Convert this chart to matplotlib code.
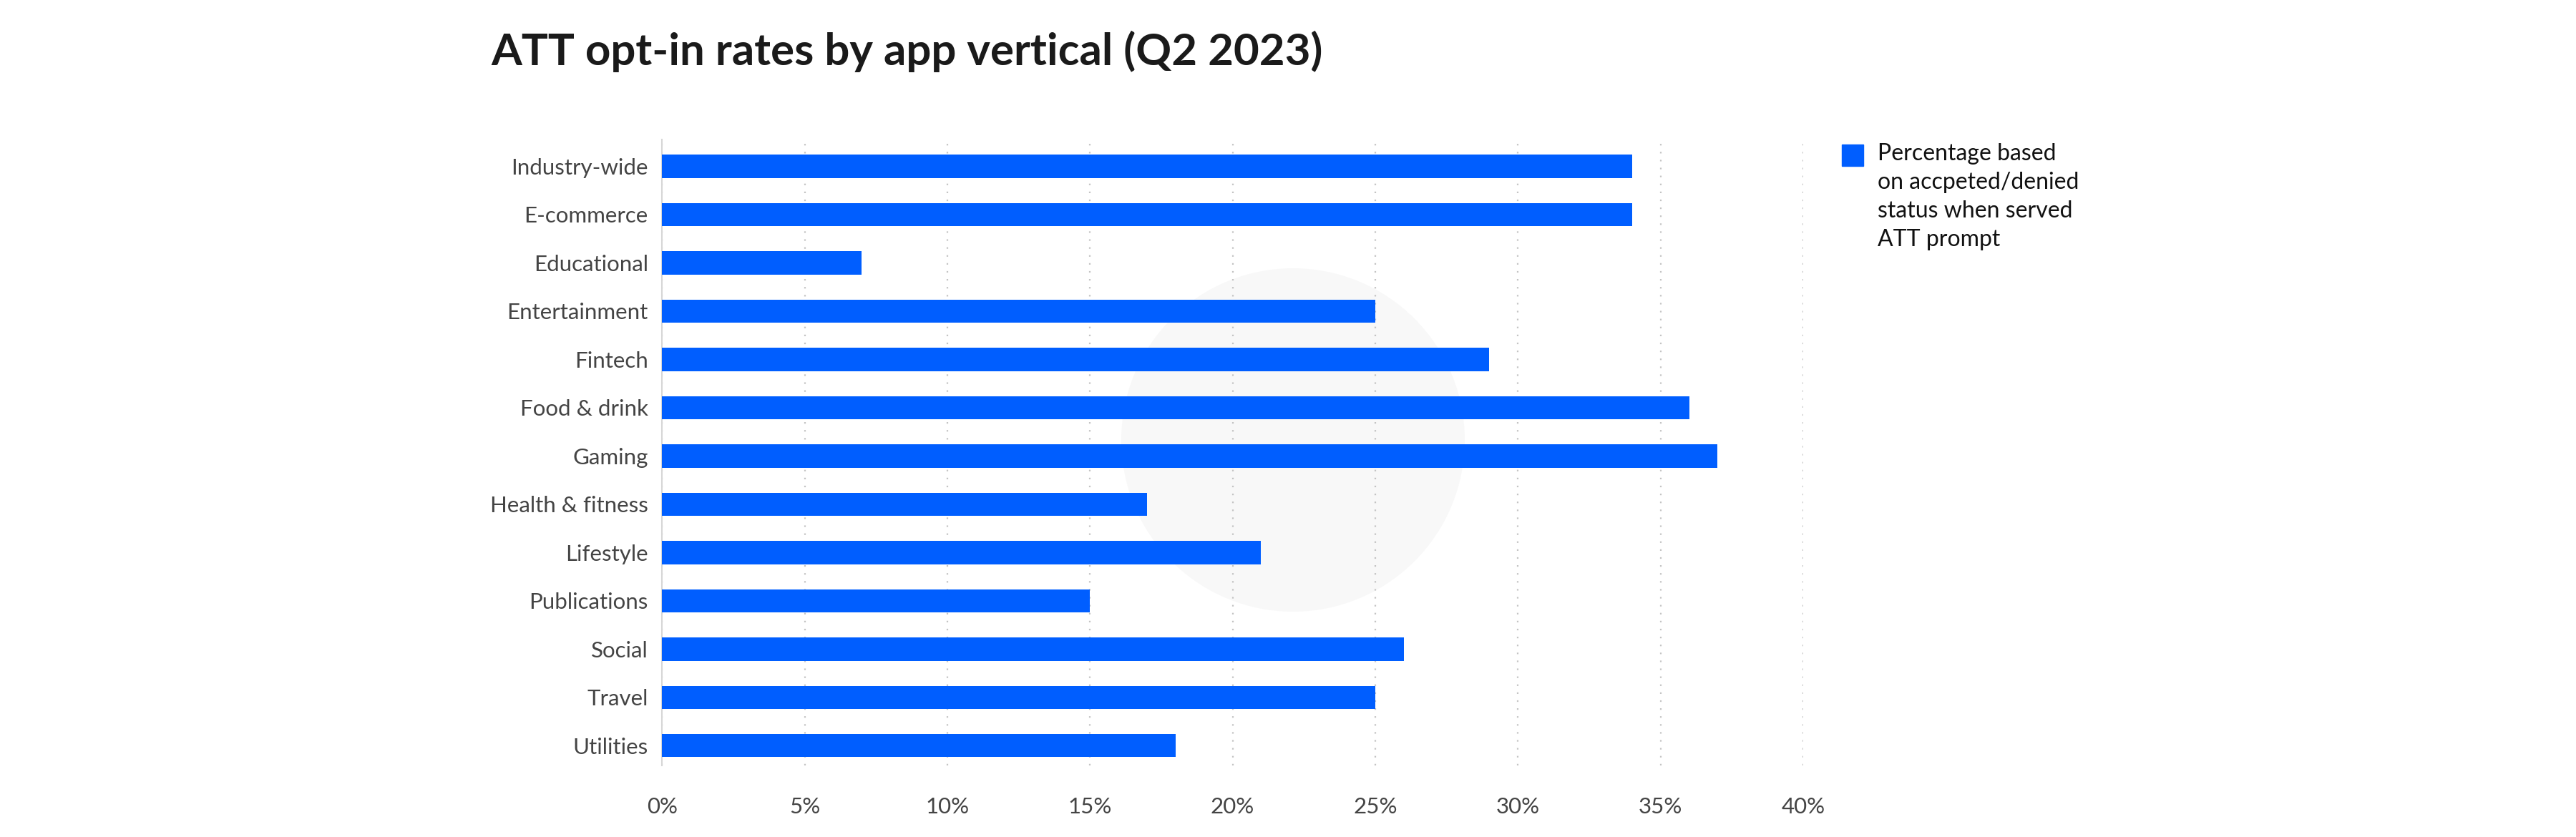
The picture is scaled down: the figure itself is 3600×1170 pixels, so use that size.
import matplotlib.pyplot as plt
from matplotlib.patches import Circle, Rectangle

# data
categories = ["Industry-wide", "E-commerce", "Educational", "Entertainment", "Fintech",
              "Food & drink", "Gaming", "Health & fitness", "Lifestyle", "Publications",
              "Social", "Travel", "Utilities"]
opt_in = [34, 34, 7, 25, 29, 36, 37, 17, 21, 15, 26, 25, 18]
xticks = [0, 5, 10, 15, 20, 25, 30, 35, 40]
xtick_labels = ["0%", "5%", "10%", "15%", "20%", "25%", "30%", "35%", "40%"]
legend_label = "Percentage based\non accpeted/denied\nstatus when served\nATT prompt"

bar_color = "#005EFF"
font = "Lato"

fig = plt.figure(figsize=(36, 11.7), dpi=100)

# faint watermark behind the chart
wm = Circle((1807, 555), 240, transform=None, facecolor="#f8f8f8",
            edgecolor="none", zorder=-5)
fig.patches.append(wm)

ax = fig.add_axes([0.257, 0.0855, 0.443, 0.7475])
ax.patch.set_alpha(0)

y = range(len(categories))
ax.barh(y, opt_in, height=0.48, color=bar_color, zorder=3)

ax.set_xlim(0, 40)
ax.set_ylim(len(categories) - 1 + 0.41, -0.55)

ax.set_xticks(xticks)
ax.set_xticklabels(xtick_labels)
ax.set_yticks(list(y))
ax.set_yticklabels(categories)

ax.tick_params(axis="both", length=0, labelsize=22.5, labelcolor="#444444")
ax.tick_params(axis="x", pad=32)
ax.tick_params(axis="y", pad=14)
for lbl in ax.get_xticklabels() + ax.get_yticklabels():
    lbl.set_fontfamily(font)

ax.grid(axis="x", linestyle=(0, (1, 4)), color="#c4c4c4", linewidth=1.6, zorder=0)
ax.grid(axis="y", visible=False)
for s in ["top", "right", "bottom"]:
    ax.spines[s].set_visible(False)
ax.spines["left"].set_color("#d6d6d6")
ax.spines["left"].set_linewidth(1.5)

# title
fig.text(686 / 3600, 1 - 72 / 1170, "ATT opt-in rates by app vertical (Q2 2023)",
         fontsize=44.5, fontweight="bold", family=font, color="#1a1a1a",
         ha="left", va="center")

# legend
fig.patches.append(Rectangle((2574 / 3600, 1 - 232 / 1170), 30 / 3600, 30 / 1170,
                             transform=fig.transFigure, color=bar_color))
fig.text(2624 / 3600, 1 - 200 / 1170, legend_label, fontsize=23, family=font,
         color="#111111", ha="left", va="top", linespacing=1.42)

fig.savefig("out.png", dpi=100)
